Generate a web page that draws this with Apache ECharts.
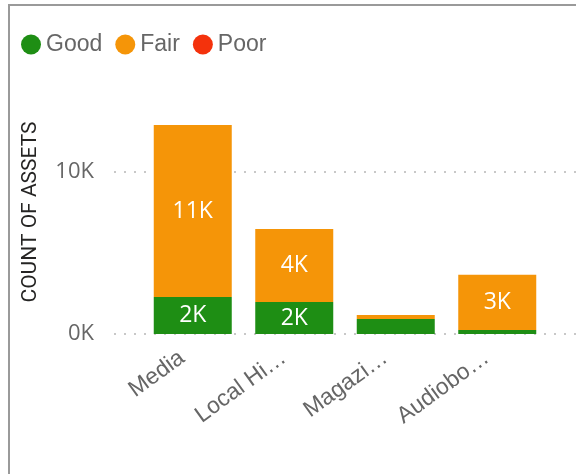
<!DOCTYPE html>
<html>
<head>
<meta charset="utf-8">
<script src="https://cdn.jsdelivr.net/npm/echarts@6/dist/echarts.min.js"></script>
<style>
html,body{margin:0;padding:0;background:#fff;}
#chart{width:576px;height:474px;}
</style>
</head>
<body>
<div id="chart"></div>
<script>
const categories = ['Media', 'Local Hi…', 'Magazi…', 'Audiobo…'];
const seriesNames = ['Good', 'Fair', 'Poor'];
const goodValues = [2280, 1980, 930, 250];
const fairValues = [10620, 4500, 250, 3400];
const poorValues = [0, 0, 0, 0];
const yTicks = [0, 10000];
const yTickLabels = ['0K', '10K'];
const colors = ['#1E8E14', '#F59508', '#F4320C'];

const chart = echarts.init(document.getElementById('chart'));

function fmtLabel(p) {
  if (p.value < 1500) return '';
  return Math.floor(p.value / 1000 + 0.45) + 'K';
}

const dataSets = [goodValues, fairValues, poorValues];
const series = seriesNames.map((name, i) => ({
  name: name,
  type: 'bar',
  stack: 'total',
  xAxisIndex: 0,
  yAxisIndex: 0,
  barWidth: 78,
  data: dataSets[i],
  itemStyle: { color: colors[i] },
  label: {
    show: true,
    position: 'inside',
    color: '#ffffff',
    fontSize: 23,
    fontFamily: 'Open Sans',
    formatter: fmtLabel
  }
}));

chart.setOption({
  animation: false,
  backgroundColor: '#ffffff',
  color: colors,
  legend: {
    data: seriesNames,
    left: 21,
    top: 33,
    padding: 0,
    icon: 'circle',
    itemWidth: 20,
    itemHeight: 20,
    itemGap: 13,
    textStyle: { fontSize: 23, color: '#666666', fontFamily: 'Liberation Sans' }
  },
  graphic: [
    {
      type: 'rect',
      shape: { x: 9, y: 5, width: 700, height: 700 },
      style: { fill: 'none', stroke: '#9a9a9a', lineWidth: 2 },
      silent: true
    },
    {
      type: 'text',
      x: 31,
      y: 212,
      rotation: Math.PI / 2,
      style: {
        text: 'COUNT OF ASSETS',
        fill: '#252423',
        fontSize: 21,
        fontFamily: 'Roboto',
        align: 'center',
        verticalAlign: 'middle'
      }
    }
  ],
  grid: [
    { left: 142, right: 28, top: 107.2, bottom: 140 },
    { left: 114, right: 0, top: 172, bottom: 140 }
  ],
  xAxis: [
    {
      type: 'category',
      gridIndex: 0,
      data: categories,
      axisLine: { show: false },
      axisTick: { show: false },
      axisLabel: {
        interval: 0,
        rotate: 36,
        margin: 14,
        padding: [0, 13, 0, 0],
        fontSize: 23,
        color: '#666666',
        fontFamily: 'Liberation Sans'
      }
    },
    { type: 'value', gridIndex: 1, show: false, min: 0, max: 1 }
  ],
  yAxis: [
    {
      type: 'value',
      gridIndex: 0,
      min: 0,
      max: 14000,
      show: false
    },
    {
      type: 'value',
      gridIndex: 1,
      min: yTicks[0],
      max: yTicks[1],
      interval: 10000,
      axisLine: { show: false },
      axisTick: { show: false },
      splitLine: { show: true, lineStyle: { color: '#c8c8c8', type: [2, 8], width: 2 } },
      axisLabel: {
        margin: 20,
        fontSize: 22,
        color: '#666666',
        fontFamily: 'Open Sans',
        formatter: v => yTickLabels[yTicks.indexOf(v)] || ''
      }
    }
  ],
  series: series
});
</script>
</body>
</html>
